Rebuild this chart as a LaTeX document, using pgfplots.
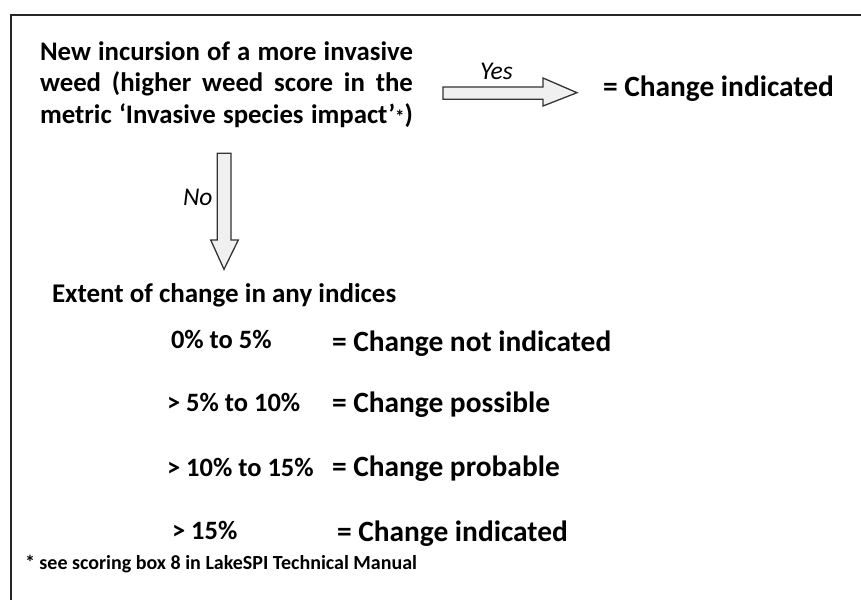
\documentclass[border=0pt]{standalone}
\usepackage{pgfplots}
\pgfplotsset{compat=1.18}
\usepackage{fontspec}
\setmainfont{Carlito}
\begin{document}
\begin{tikzpicture}
\begin{axis}[hide axis, scale only axis, width=861pt, height=599pt,
  xmin=0, xmax=861, ymin=0, ymax=599, y dir=reverse, clip=false]
% frame
\addplot[draw=black!85, line width=2pt] coordinates {(11,600) (11,15) (862,15)};
% Yes arrow
\addplot[draw=black!80, line width=1.3pt, fill=black!6] coordinates {(443,87) (543,87) (543,78) (577,92.7) (543,106) (543,99.3) (443,99.3)} --cycle;
% No arrow
\addplot[draw=black!80, line width=1.3pt, fill=black!6] coordinates {(217.3,153.3) (231,153.3) (231,240) (238.3,240) (224,269.3) (210.7,240) (217.3,240)} --cycle;
\tikzset{every node/.style={inner sep=0pt, outer sep=0pt, anchor=base west}}
\node[font=\fontsize{26.8}{30}\selectfont\bfseries] at (axis cs:40,61) {\makebox[373pt][s]{New incursion of a more invasive}};
\node[font=\fontsize{26.8}{30}\selectfont\bfseries] at (axis cs:40,92) {\makebox[373pt][s]{weed (higher weed score in the}};
\node[font=\fontsize{26.8}{30}\selectfont\bfseries] at (axis cs:40,123) {\makebox[373pt][s]{metric ‘Invasive species impact’{\fontsize{19}{20}\selectfont*})}};
\node[font=\fontsize{25.5}{28}\selectfont\itshape] at (axis cs:480,80) {Yes};
\node[font=\fontsize{29.4}{32}\selectfont\bfseries] at (axis cs:603,97) {= Change indicated};
\node[font=\fontsize{25.5}{28}\selectfont\itshape] at (axis cs:183,205.5) {No};
\node[font=\fontsize{27}{30}\selectfont\bfseries] at (axis cs:52,302) {Extent of change in any indices};
\node[font=\fontsize{26.5}{30}\selectfont\bfseries] at (axis cs:171,348.5) {0\% to 5\%};
\node[font=\fontsize{29.4}{32}\selectfont\bfseries] at (axis cs:332,351.5) {= Change not indicated};
\node[font=\fontsize{26.5}{30}\selectfont\bfseries] at (axis cs:167,411.5) {> 5\% to 10\%};
\node[font=\fontsize{29.4}{32}\selectfont\bfseries] at (axis cs:332,412) {= Change possible};
\node[font=\fontsize{26.5}{30}\selectfont\bfseries] at (axis cs:167,476.5) {> 10\% to 15\%};
\node[font=\fontsize{29.4}{32}\selectfont\bfseries] at (axis cs:332,476.5) {= Change probable};
\node[font=\fontsize{26.5}{30}\selectfont\bfseries] at (axis cs:172,539.5) {> 15\%};
\node[font=\fontsize{29.4}{32}\selectfont\bfseries] at (axis cs:337,541.5) {= Change indicated};
\node[font=\fontsize{20}{24}\selectfont\bfseries] at (axis cs:25,569) {* see scoring box 8 in LakeSPI Technical Manual};
\end{axis}
\pgfresetboundingbox
\path (0,0) rectangle (861pt,599pt);
\end{tikzpicture}
\end{document}
